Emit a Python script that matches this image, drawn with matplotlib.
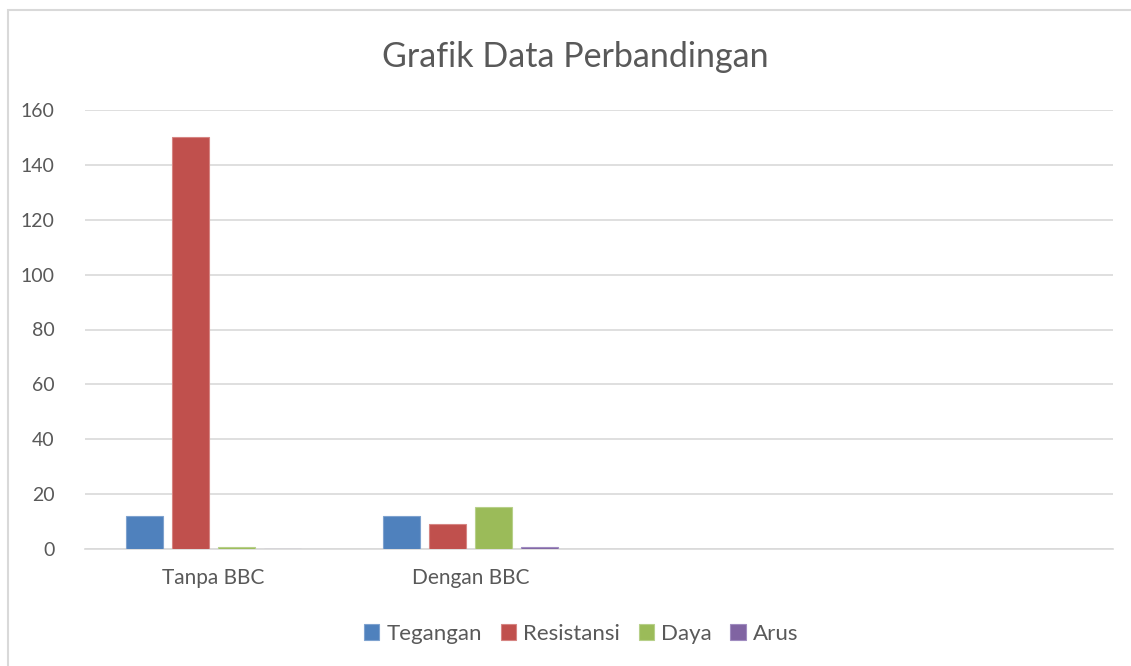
import numpy as np
import matplotlib.pyplot as plt
from matplotlib.patches import Rectangle

plt.rcParams['font.family'] = ['Lato', 'DejaVu Sans']

categories = ['Tanpa BBC', 'Dengan BBC', '', '']
series_names = ['Tegangan', 'Resistansi', 'Daya', 'Arus']
tegangan = [12, 12, 0, 0]
resistansi = [150, 9.1, 0, 0]
daya = [0.6, 15.2, 0, 0]
arus = [0.05, 0.85, 0, 0]
colors = ['#4f81bd', '#c0504d', '#9bbb59', '#8064a2']
edge_colors = ['#7ea2cf', '#d68583', '#b7d08a', '#a08cc0']

W, H = 1131, 666
fig = plt.figure(figsize=(W / 100, H / 100), dpi=100)
fig.patches.append(Rectangle((8 / W, -0.1), 1.2, 1 - 10 / H + 0.1,
                             transform=fig.transFigure, fill=False,
                             edgecolor='#d9d9d9', linewidth=1.5))

ax = fig.add_axes([85 / W, 117 / H, (1113 - 85) / W, (549 - 110) / H])
x = np.arange(len(categories))
width = 0.144
step = 0.179
for i, (vals, name) in enumerate(zip([tegangan, resistansi, daya, arus], series_names)):
    bars = ax.bar(x + (i - 1.5) * step, vals, width, color=colors[i], label=name,
                  edgecolor=edge_colors[i], linewidth=0.8, zorder=3)
    for b, v in zip(bars, vals):
        if v == 0:
            b.set_linewidth(0)

ax.set_xlim(-0.5, 3.5)
ax.set_ylim(0, 160)
ax.set_yticks(range(0, 161, 20))
ax.set_xticks(x)
ax.set_xticklabels(categories)
ax.tick_params(axis='both', length=0, colors='#595959')
ax.tick_params(axis='y', pad=22, labelsize=14)
ax.tick_params(axis='x', pad=14, labelsize=15)
ax.grid(axis='y', color='#d9d9d9', linewidth=1.2, zorder=0)
for s in ['top', 'right', 'left']:
    ax.spines[s].set_visible(False)
ax.spines['bottom'].set_color('#d9d9d9')
ax.spines['bottom'].set_linewidth(1.2)

fig.text(575 / W, 1 - 57 / H, 'Grafik Data Perbandingan', ha='center', va='center',
         fontsize=24.5, color='#595959')

fig.legend(loc='center', bbox_to_anchor=(581 / W, 1 - 634 / H), ncol=4, frameon=False,
           fontsize=16, labelcolor='#595959', handlelength=0.7, handleheight=0.7,
           handletextpad=0.3, columnspacing=0.85)

fig.savefig('out.png', dpi=100)
